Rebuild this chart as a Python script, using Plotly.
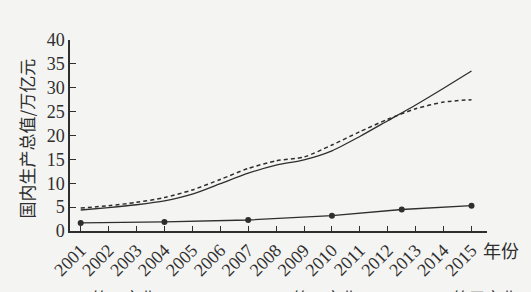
import plotly.graph_objects as go

years = list(range(2001, 2016))
year_labels = [str(y) for y in years]
y_ticks = [0, 5, 10, 15, 20, 25, 30, 35, 40]

solid_vals = [4.4, 4.9, 5.5, 6.3, 7.7, 9.9, 12.1, 13.8, 14.9, 16.8, 19.8, 23.1, 26.4, 29.9, 33.5]
dashed_vals = [4.8, 5.3, 6.0, 7.0, 8.6, 10.8, 13.1, 14.7, 15.5, 18.0, 20.8, 23.4, 25.6, 27.0, 27.5]
dot_years = [2001, 2004, 2007, 2010, 2012.5, 2015]
dot_vals = [1.7, 1.9, 2.3, 3.2, 4.5, 5.3]

ink = "#2e2e2e"
bg = "#f4f4f2"
serif = "Liberation Serif"
cjk = "Noto Sans CJK SC"

fig = go.Figure()
fig.add_trace(go.Scatter(x=years, y=solid_vals, mode="lines",
                         line=dict(color=ink, width=1.3, shape="spline", smoothing=0.7)))
fig.add_trace(go.Scatter(x=years, y=dashed_vals, mode="lines",
                         line=dict(color=ink, width=1.5, dash="4px,3px", shape="spline", smoothing=0.7)))
fig.add_trace(go.Scatter(x=dot_years, y=dot_vals, mode="lines+markers",
                         line=dict(color=ink, width=1.3),
                         marker=dict(color=ink, size=6)))

fig.update_layout(
    width=531, height=292,
    margin=dict(l=70, r=44, t=40, b=58),
    paper_bgcolor=bg, plot_bgcolor=bg,
    showlegend=False,
    font=dict(family=serif, color=ink),
    xaxis=dict(range=[2000.617, 2015.555], tickvals=years, ticktext=year_labels,
               tickangle=-45, ticks="inside", ticklen=5, tickcolor=ink, tickwidth=1.2,
               showline=True, linecolor=ink, linewidth=1.5, showgrid=False, zeroline=False,
               tickfont=dict(family=serif, size=18, color=ink)),
    yaxis=dict(range=[0, 40], tickvals=y_ticks, ticks="inside", ticklen=6, tickcolor=ink,
               tickwidth=1.2, showline=True, linecolor=ink, linewidth=1.5, showgrid=False,
               zeroline=False, tickfont=dict(family=serif, size=18, color=ink)),
    annotations=[
        dict(text="国内生产总值/万亿元", xref="paper", yref="paper", x=0, y=0.5,
             xshift=-44, yshift=-3, xanchor="center", yanchor="middle", textangle=-90,
             showarrow=False, font=dict(family=cjk, size=17, color=ink)),
        dict(text="年份", xref="paper", yref="paper", x=1, y=0, xshift=-6, yshift=-19,
             xanchor="left", yanchor="middle", showarrow=False,
             font=dict(family=cjk, size=18, color=ink)),
        dict(text="第一产业", xref="paper", yref="paper", x=0.048, y=0, yshift=-66,
             xanchor="left", yanchor="middle", showarrow=False,
             font=dict(family=cjk, size=16, color=ink)),
        dict(text="第二产业", xref="paper", yref="paper", x=0.53, y=0, yshift=-66,
             xanchor="left", yanchor="middle", showarrow=False,
             font=dict(family=cjk, size=16, color=ink)),
        dict(text="第三产业", xref="paper", yref="paper", x=0.914, y=0, yshift=-66,
             xanchor="left", yanchor="middle", showarrow=False,
             font=dict(family=cjk, size=16, color=ink)),
    ],
)

fig.write_html("out.html")
